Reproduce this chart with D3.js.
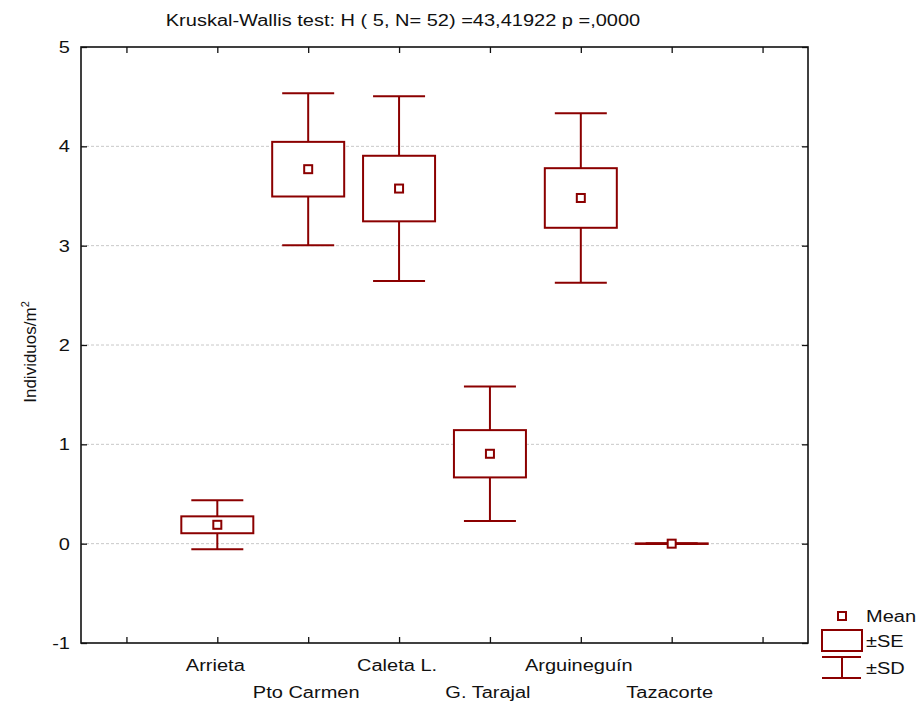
<!DOCTYPE html>
<html lang="es">
<head>
<meta charset="utf-8"/>
<title>Kruskal-Wallis</title>
<style>
  body { margin: 0; background: #fff; }
  text { font-family: "Liberation Sans", Arial, sans-serif; fill: #111; }
  .grid line { stroke: #c8c8c8; stroke-dasharray: 3,2; stroke-width: 1; }
  .mark { fill: none; stroke: #8b0000; stroke-width: 2; }
</style>
</head>
<body>
<div class="viz"></div>
<script src="https://cdnjs.cloudflare.com/ajax/libs/d3/7.8.5/d3.min.js"></script>
<script>
var sites = ["Arrieta", "Pto Carmen", "Caleta L.", "G. Tarajal", "Arguineguín", "Tazacorte"];
var means = [0.19, 3.77, 3.575, 0.905, 3.48, 0.0];
var se    = [0.085, 0.275, 0.33, 0.238, 0.30, 0.003];
var sd    = [0.246, 0.765, 0.93, 0.676, 0.853, 0.003];
var yTicks = [-1, 0, 1, 2, 3, 4, 5];
var title = "Kruskal-Wallis test: H ( 5, N= 52) =43,41922 p =,0000";

var W = 920, H = 704;
var margin = {top: 47, right: 112, bottom: 61, left: 81};
var width = W - margin.left - margin.right,
    height = H - margin.top - margin.bottom;
var stretch = 1.25;   // the text in the original is wide

var svg = d3.select(".viz").append("svg")
    .attr("width", W).attr("height", H);

// horizontal text drawn a bit wider than the font itself
function wideText(sel, tx, ty, anchor, size, str) {
  return sel.append("text")
    .attr("transform", "translate(" + tx + "," + ty + ") scale(" + stretch + ",1)")
    .attr("text-anchor", anchor)
    .style("font-size", size + "px")
    .text(str);
}

var g = svg.append("g")
    .attr("transform", "translate(" + margin.left + "," + margin.top + ")");

var x = d3.scaleLinear().domain([0, 8]).range([0, width]);
var y = d3.scaleLinear().domain([-1, 5]).range([height, 0]);

var xTickPos = d3.range(8).map(function(i) { return i + 0.5; });

// grid
g.append("g").attr("class", "grid")
  .selectAll("line").data(yTicks.filter(function(d) { return d > -1 && d < 5; }))
  .enter().append("line")
  .attr("x1", 0).attr("x2", width)
  .attr("y1", function(d) { return y(d); })
  .attr("y2", function(d) { return y(d); });

// axes, ticks inward
var tickLen = 6;
g.append("g").call(d3.axisLeft(y).tickValues(yTicks).tickSize(-tickLen).tickFormat(""))
  .call(function(a) { a.select(".domain").remove(); });
g.append("g").attr("transform", "translate(" + width + ",0)")
  .call(d3.axisRight(y).tickValues(yTicks).tickSize(-tickLen).tickFormat(""))
  .call(function(a) { a.select(".domain").remove(); });
g.append("g").attr("transform", "translate(0," + height + ")")
  .call(d3.axisBottom(x).tickValues(xTickPos).tickSize(-tickLen).tickFormat(""))
  .call(function(a) { a.select(".domain").remove(); });
g.append("g")
  .call(d3.axisTop(x).tickValues(xTickPos).tickSize(-tickLen).tickFormat(""))
  .call(function(a) { a.select(".domain").remove(); });
g.selectAll(".tick line").attr("stroke", "#111").attr("stroke-width", 1.3);

g.append("rect").attr("width", width).attr("height", height)
  .attr("fill", "none").attr("stroke", "#111").attr("stroke-width", 1.6);

// y tick labels
yTicks.forEach(function(t) {
  wideText(g, -11, y(t) + 6, "end", 16, String(t));
});

// category labels, alternating rows
sites.forEach(function(s, i) {
  wideText(g, x(i + 1.5) - 2, height + (i % 2 === 0 ? 28 : 55), "middle", 16, s);
});

// boxes
var boxW = 72, capW = 52, meanS = 8;
var grp = g.selectAll(".site").data(sites).enter().append("g")
  .attr("class", "site")
  .attr("transform", function(d, i) { return "translate(" + x(i + 1.5) + ",0)"; });

grp.append("line").attr("class", "mark")
  .attr("x1", 0).attr("x2", 0)
  .attr("y1", function(d, i) { return y(means[i] + sd[i]); })
  .attr("y2", function(d, i) { return y(means[i] + se[i]); });
grp.append("line").attr("class", "mark")
  .attr("x1", 0).attr("x2", 0)
  .attr("y1", function(d, i) { return y(means[i] - se[i]); })
  .attr("y2", function(d, i) { return y(means[i] - sd[i]); });
grp.append("line").attr("class", "mark")
  .attr("x1", -capW / 2).attr("x2", capW / 2)
  .attr("y1", function(d, i) { return y(means[i] + sd[i]); })
  .attr("y2", function(d, i) { return y(means[i] + sd[i]); });
grp.append("line").attr("class", "mark")
  .attr("x1", -capW / 2).attr("x2", capW / 2)
  .attr("y1", function(d, i) { return y(means[i] - sd[i]); })
  .attr("y2", function(d, i) { return y(means[i] - sd[i]); });
grp.append("rect").attr("class", "mark")
  .attr("x", -boxW / 2).attr("width", boxW)
  .attr("y", function(d, i) { return y(means[i] + se[i]); })
  .attr("height", function(d, i) { return Math.max(0.5, y(means[i] - se[i]) - y(means[i] + se[i])); })
  .style("fill", "#fff");
grp.append("rect").attr("class", "mark")
  .attr("x", -meanS / 2).attr("width", meanS)
  .attr("y", function(d, i) { return y(means[i]) - meanS / 2; })
  .attr("height", meanS)
  .style("fill", "#fff");

// title
wideText(svg, 403, 26, "middle", 16, title);

// y label
var yl = svg.append("text")
  .attr("transform", "translate(36," + 352 + ") rotate(-90)")
  .attr("text-anchor", "middle").style("font-size", "17px");
yl.append("tspan").text("Individuos/m");
yl.append("tspan").attr("dy", -7).style("font-size", "11px").text("2");

// legend
var lg = svg.append("g").attr("transform", "translate(842,0)");
lg.append("rect").attr("class", "mark").attr("x", -4).attr("y", 612).attr("width", 8).attr("height", 8).style("fill", "#fff");
lg.append("rect").attr("class", "mark").attr("x", -20).attr("y", 630).attr("width", 40).attr("height", 21).style("fill", "#fff");
lg.append("line").attr("class", "mark").attr("x1", -20).attr("x2", 19).attr("y1", 657).attr("y2", 657);
lg.append("line").attr("class", "mark").attr("x1", -20).attr("x2", 19).attr("y1", 678).attr("y2", 678);
lg.append("line").attr("class", "mark").attr("x1", 0).attr("x2", 0).attr("y1", 657).attr("y2", 678);
var legTxt = [["Mean", 622], ["±SE", 647], ["±SD", 674]];
legTxt.forEach(function(d) { wideText(lg, 24, d[1], "start", 16, d[0]); });
</script>
</body>
</html>
